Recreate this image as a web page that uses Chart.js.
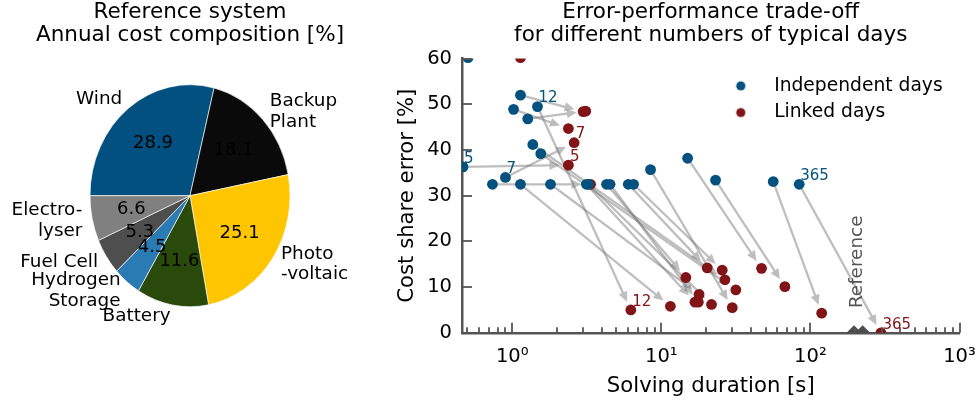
<!DOCTYPE html>
<html><head><meta charset="utf-8">
<script src="https://cdn.jsdelivr.net/npm/chart.js@4.4.1/dist/chart.umd.min.js"></script>
<style>
html,body{margin:0;padding:0;background:#fff;width:978px;height:405px;overflow:hidden}
#pie{position:absolute;left:0;top:0}
#sc{position:absolute;left:380px;top:0}
</style></head><body>
<canvas id="pie" width="380" height="405"></canvas>
<canvas id="sc" width="598" height="405"></canvas>
<script>
// ---------- data: pie ----------
const pieLabels = ['Wind', 'Backup\nPlant', 'Photo\n-voltaic', 'Battery', 'Hydrogen\nStorage', 'Fuel Cell', 'Electro-\nlyser'];
const pieShares = [28.9, 18.1, 25.1, 11.6, 4.5, 5.3, 6.6];
const pieColors = ['#02507f', '#0a0a0a', '#ffc600', '#294a0b', '#2a7ab4', '#4e4e4e', '#808080'];

// ---------- data: scatter (pairs share the same index) ----------
const indepTime  = [0.505, 1.135, 1.02, 1.476, 1.27, 1.373, 1.553, 0.467, 0.90, 0.736, 1.135, 1.805, 3.14, 3.25, 4.29, 4.53, 6.0, 6.51, 8.46, 15.0, 23.1, 56.3, 84.1];
const indepError = [60.2, 52.0, 48.9, 49.5, 46.8, 41.2, 39.2, 36.3, 34.0, 32.5, 32.5, 32.5, 32.5, 32.5, 32.5, 32.5, 32.5, 32.5, 35.7, 38.2, 33.4, 33.1, 32.5];
const indepDays  = ['', '', '', '12', '', '', '', '5', '7', '', '', '', '', '', '', '', '', '', '', '', '', '', '365'];
const linkedTime  = [1.135, 2.99, 2.38, 6.24, 3.11, 26.7, 31.6, 2.38, 2.60, 3.35, 11.5, 17.9, 16.8, 21.7, 14.6, 17.7, 20.3, 25.6, 29.9, 47.0, 67.4, 119, 297];
const linkedError = [60.2, 48.4, 44.7, 5.0, 48.5, 11.6, 9.4, 36.7, 41.6, 32.5, 5.8, 8.4, 6.7, 6.2, 12.1, 6.7, 14.2, 13.7, 5.5, 14.1, 10.1, 4.3, 0.0];
const linkedDays  = ['', '', '', '12', '', '', '', '5', '7', '', '', '', '', '', '', '', '', '', '', '', '', '', '365'];
const refTime  = [196, 224];
const refError = [0, 0];
const xMajorTicks = [1, 10, 100, 1000];
const xTickLabels = ['10⁰', '10¹', '10²', '10³'];

const BLUE = '#03517f', RED = '#801416', GREY = '#555555';
Chart.defaults.font.family = "'DejaVu Sans', sans-serif";
Chart.defaults.color = '#000';

// ---------- pie ----------
const PIE_STRETCH = 1.11;
const pieStretch = {
  id: 'pieStretch',
  beforeDatasetsDraw(chart) {
    const a = chart.chartArea, c = chart.ctx;
    const cx = (a.left + a.right) / 2, cy = (a.top + a.bottom) / 2;
    c.save(); c.translate(cx, cy); c.scale(1, PIE_STRETCH); c.translate(-cx, -cy);
  },
  afterDatasetsDraw(chart) {
    const c = chart.ctx;
    c.restore();
    const meta = chart.getDatasetMeta(0);
    c.save();
    meta.data.forEach((arc, i) => {
      const p = arc.getProps(['x', 'y', 'startAngle', 'endAngle', 'outerRadius'], true);
      const mid = (p.startAngle + p.endAngle) / 2;
      const dx = Math.cos(mid), dy = Math.sin(mid);
      c.fillStyle = '#000';
      c.font = "18px 'DejaVu Sans'";
      c.textAlign = 'center'; c.textBaseline = 'middle';
      c.fillText(pieShares[i].toFixed(1), p.x + dx * 0.6 * p.outerRadius, p.y + dy * 0.6 * p.outerRadius * PIE_STRETCH);
      const lx = p.x + dx * 1.1 * p.outerRadius, ly = p.y + dy * 1.1 * p.outerRadius * PIE_STRETCH;
      c.font = "18.4px 'DejaVu Sans'";
      c.textAlign = dx > 0 ? 'left' : 'right';
      const lines = pieLabels[i].split('\n');
      const lh = 20.6;
      lines.forEach((ln, k) => c.fillText(ln, lx, ly - (lines.length - 1) * lh / 2 + k * lh));
    });
    c.restore();
  }
};

new Chart(document.getElementById('pie'), {
  type: 'pie',
  data: { labels: pieLabels.map(s => s.replace('\n', ' ')), datasets: [{ data: pieShares, backgroundColor: pieColors, borderColor: '#ffffff', borderWidth: 0.6, clip: false }] },
  options: {
    responsive: false, animation: false, devicePixelRatio: 1,
    rotation: 270, radius: 100,
    layout: { padding: { left: 0, right: 0, top: 0, bottom: 70 } },
    plugins: {
      legend: { display: false }, tooltip: { enabled: false },
      title: { display: true, text: ['Reference system', 'Annual cost composition [%]'], color: '#000',
        font: { size: 21.5, weight: 'normal', lineHeight: 1.056 }, padding: { top: 1, bottom: 10 } }
    }
  },
  plugins: [pieStretch]
});

// ---------- scatter ----------
function dotImage(color) {
  const c = document.createElement('canvas'); c.width = 12; c.height = 12;
  const g = c.getContext('2d'); g.fillStyle = color; g.beginPath(); g.arc(6, 6, 4.6, 0, Math.PI * 2); g.fill();
  return c;
}
const legendDots = [dotImage(BLUE), dotImage(RED)];

const arrowsPlugin = {
  id: 'arrows',
  beforeDatasetsDraw(chart) {
    const { ctx, chartArea: a, scales: { x, y } } = chart;
    ctx.save();
    ctx.beginPath(); ctx.rect(a.left, a.top, a.right - a.left, a.bottom - a.top); ctx.clip();
    ctx.fillStyle = 'rgba(120,120,120,0.48)';
    for (let i = 0; i < indepTime.length; i++) {
      if (indepError[i] > y.max && linkedError[i] > y.max) continue; // both outside the axes
      const x1 = x.getPixelForValue(indepTime[i]), y1 = y.getPixelForValue(indepError[i]);
      const x2 = x.getPixelForValue(linkedTime[i]), y2 = y.getPixelForValue(linkedError[i]);
      const dx = x2 - x1, dy = y2 - y1, L = Math.hypot(dx, dy);
      if (L < 20) continue;
      const ux = dx / L, uy = dy / L, px = -uy, py = ux;
      const tipX = x2 - ux * 9, tipY = y2 - uy * 9;
      const bX = tipX - ux * 10, bY = tipY - uy * 10;
      const hw = 1.15;
      ctx.beginPath();
      ctx.moveTo(x1 + px * hw, y1 + py * hw);
      ctx.lineTo(bX + px * hw, bY + py * hw);
      ctx.lineTo(bX + px * 4.6, bY + py * 4.6);
      ctx.lineTo(tipX, tipY);
      ctx.lineTo(bX - px * 4.6, bY - py * 4.6);
      ctx.lineTo(bX - px * hw, bY - py * hw);
      ctx.lineTo(x1 - px * hw, y1 - py * hw);
      ctx.closePath();
      ctx.fill();
    }
    ctx.restore();
  }
};

const axisDecor = {
  id: 'axisDecor',
  afterDatasetsDraw(chart) {
    const { ctx, chartArea: a, scales: { x, y } } = chart;
    ctx.save();
    ctx.strokeStyle = GREY; ctx.lineWidth = 1.8;
    x.ticks.forEach(t => {
      const px = Math.round(x.getPixelForValue(t.value));
      const len = t.major ? 10 : 5.5;
      ctx.beginPath(); ctx.moveTo(px, a.bottom); ctx.lineTo(px, a.bottom - len); ctx.stroke();
    });
    y.ticks.forEach(t => {
      const py = Math.round(y.getPixelForValue(t.value));
      ctx.beginPath(); ctx.moveTo(a.left, py); ctx.lineTo(a.left + 10, py); ctx.stroke();
    });
    // point annotations (number of typical days)
    ctx.font = "15px 'DejaVu Sans'"; ctx.textAlign = 'left'; ctx.textBaseline = 'alphabetic';
    indepDays.forEach((d, i) => { if (!d) return; ctx.fillStyle = BLUE;
      ctx.fillText(d, x.getPixelForValue(indepTime[i]) + 1, y.getPixelForValue(indepError[i]) - 4.3); });
    linkedDays.forEach((d, i) => { if (!d) return; ctx.fillStyle = RED;
      ctx.fillText(d, x.getPixelForValue(linkedTime[i]) + 1.5, y.getPixelForValue(linkedError[i]) - 4.3); });
    // reference label
    const rx = (x.getPixelForValue(refTime[0]) + x.getPixelForValue(refTime[1])) / 2 - 1;
    const ry = y.getPixelForValue(5.4);
    ctx.translate(rx, ry); ctx.rotate(-Math.PI / 2);
    ctx.fillStyle = GREY; ctx.font = "18.4px 'DejaVu Sans'"; ctx.textBaseline = 'middle';
    ctx.fillText('Reference', 0, 0);
    ctx.restore();
  }
};

const legendMove = {
  id: 'legendMove',
  afterLayout(chart) {
    const lg = chart.legend; if (!lg) return;
    const w = lg.width, h = lg.height;
    lg.left = 328.8; lg.right = lg.left + w; lg.top = 68.5; lg.bottom = lg.top + h;
  }
};

new Chart(document.getElementById('sc'), {
  type: 'scatter',
  data: {
    datasets: [
      { label: 'Independent days', data: indepTime.map((t, i) => ({ x: t, y: indepError[i] })),
        backgroundColor: BLUE, borderColor: BLUE, borderWidth: 0, pointRadius: 5.4, pointHoverRadius: 5.4 },
      { label: 'Linked days', data: linkedTime.map((t, i) => ({ x: t, y: linkedError[i] })),
        backgroundColor: RED, borderColor: RED, borderWidth: 0, pointRadius: 5.4, pointHoverRadius: 5.4 },
      { label: 'Reference', data: refTime.map((t, i) => ({ x: t, y: refError[i] })),
        backgroundColor: '#4d4d4d', borderWidth: 0, pointStyle: 'rectRot', pointRadius: 7.5, pointHoverRadius: 7.5 }
    ]
  },
  options: {
    responsive: false, animation: false, devicePixelRatio: 1,
    layout: { padding: { left: 0, right: 18.5, top: 0, bottom: 0 } },
    plugins: {
      tooltip: { enabled: false },
      title: { display: true, fullSize: false, text: ['Error-performance trade-off', 'for different numbers of typical days'],
        color: '#000', font: { size: 21.5, weight: 'normal', lineHeight: 1.056 }, padding: { top: 1, bottom: 12.2 } },
      legend: {
        position: 'chartArea', align: 'start',
        labels: {
          usePointStyle: true, pointStyleWidth: 48, boxHeight: 18.7, padding: 8,
          color: '#000', font: { size: 18.7 },
          generateLabels(chart) {
            return Chart.defaults.plugins.legend.labels.generateLabels(chart)
              .filter(it => it.datasetIndex < 2)
              .map(it => Object.assign({}, it, { pointStyle: legendDots[it.datasetIndex] }));
          }
        }
      }
    },
    scales: {
      x: {
        type: 'logarithmic', min: 0.46, max: 1000,
        afterBuildTicks(scale) {
          const t = [];
          for (let e = -1; e < 3; e++) for (let k = 1; k < 10; k++) {
            const v = k * Math.pow(10, e);
            if (v >= scale.min && v <= scale.max) t.push({ value: v, major: k === 1 });
          }
          t.push({ value: 1000, major: true });
          scale.ticks = t;
        },
        afterFit(scale) { scale.height = 72.2; scale.paddingLeft = 0; scale.paddingRight = 0; },
        grid: { display: false, drawTicks: false },
        border: { display: true, color: GREY, width: 2.5 },
        ticks: { autoSkip: false, maxRotation: 0, minRotation: 0, padding: 12, color: '#000', font: { size: 19.5 },
          callback(v) { const i = xMajorTicks.indexOf(v); return i >= 0 ? xTickLabels[i] : ''; } },
        title: { display: true, text: 'Solving duration [s]', color: '#000', font: { size: 21.2 }, padding: { top: 0, bottom: 6.2 } }
      },
      y: {
        min: 0, max: 60,
        afterFit(scale) { scale.width = 82; scale.paddingTop = 0; scale.paddingBottom = 0; },
        grid: { display: false, drawTicks: false },
        border: { display: true, color: GREY, width: 2.5 },
        ticks: { stepSize: 10, padding: 10, color: '#000', font: { size: 19.5 } },
        title: { display: true, text: 'Cost share error [%]', color: '#000', font: { size: 21.2 }, padding: { top: 14.8, bottom: 0 } }
      }
    }
  },
  plugins: [arrowsPlugin, axisDecor, legendMove]
});
</script>
</body></html>
